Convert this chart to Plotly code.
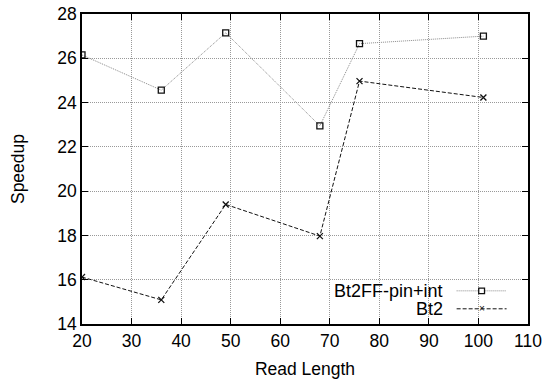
import plotly.graph_objects as go

read_length = [20, 36, 49, 68, 76, 101]
bt2ff = [26.15, 24.56, 27.15, 22.95, 26.66, 27.0]
bt2 = [16.12, 15.09, 19.40, 17.97, 24.97, 24.23]
series_names = ["Bt2FF-pin+int", "Bt2"]

FONT = "Liberation Sans, Arial, Helvetica, sans-serif"
FS = 17.5

fig = go.Figure()
fig.add_trace(go.Scatter(
    x=read_length, y=bt2ff, mode="lines+markers", name=series_names[0],
    line=dict(color="#8a8a8a", width=1, dash="1px,1px"),
    marker=dict(symbol="square-open", size=6, color="#111111", line=dict(width=1.3)),
    showlegend=False))
fig.add_trace(go.Scatter(
    x=read_length, y=bt2, mode="lines+markers", name=series_names[1],
    line=dict(color="#111111", width=1, dash="4px,2px"),
    marker=dict(symbol="x-thin-open", size=6, color="#111111", line=dict(width=1.3, color="#111111")),
    showlegend=False))

# legend drawn gnuplot style (text left, sample right)
rows = [(0.107, series_names[0], "#8a8a8a", "1px,1px", "square"),
        (0.049, series_names[1], "#111111", "4px,2px", "x")]
for yp, name, col, dash, sym in rows:
    fig.add_annotation(x=0.815, y=yp, xref="paper", yref="paper", text=name,
                       showarrow=False, xanchor="right", yanchor="middle",
                       font=dict(family=FONT, size=18, color="#000"))
    fig.add_shape(type="line", xref="paper", yref="paper", x0=0.84, x1=0.952, y0=yp, y1=yp,
                  line=dict(color=col, width=1, dash=dash))
    if sym == "square":
        fig.add_shape(type="rect", xref="paper", yref="paper",
                      x0=0.896 - 0.0065, x1=0.896 + 0.0065, y0=yp - 0.009, y1=yp + 0.009,
                      line=dict(color="#111", width=1.3), fillcolor="white")
    else:
        fig.add_annotation(x=0.896, y=yp, xref="paper", yref="paper", text="×",
                           showarrow=False, xanchor="center", yanchor="middle",
                           font=dict(family=FONT, size=10, color="#111"))

fig.update_layout(
    width=548, height=379,
    margin=dict(l=82, r=20, t=14, b=55, autoexpand=False),
    paper_bgcolor="white", plot_bgcolor="white",
    font=dict(family=FONT, size=FS, color="#000"),
)
fig.update_xaxes(range=[20, 110], dtick=10, tick0=20, automargin=False,
                 showline=True, linecolor="#000", linewidth=1.5, mirror="ticks",
                 ticks="inside", ticklen=6, tickcolor="#000",
                 showgrid=True, gridcolor="#999", griddash="1px,1px", gridwidth=1,
                 zeroline=False,
                 title=dict(text="Read Length", standoff=16, font=dict(size=FS)))
fig.update_yaxes(range=[14, 28], dtick=2, tick0=14, automargin=False,
                 showline=True, linecolor="#000", linewidth=1.5, mirror="ticks",
                 ticks="inside", ticklen=6, tickcolor="#000",
                 showgrid=True, gridcolor="#999", griddash="1px,1px", gridwidth=1,
                 zeroline=False,
                 title=dict(text="Speedup", standoff=28, font=dict(size=FS)))

# remove the default 8px page margin so the figure sits at the window's corner
fig.write_html("out.html", config={"displayModeBar": False},
               post_script="document.body.style.margin='0';")
